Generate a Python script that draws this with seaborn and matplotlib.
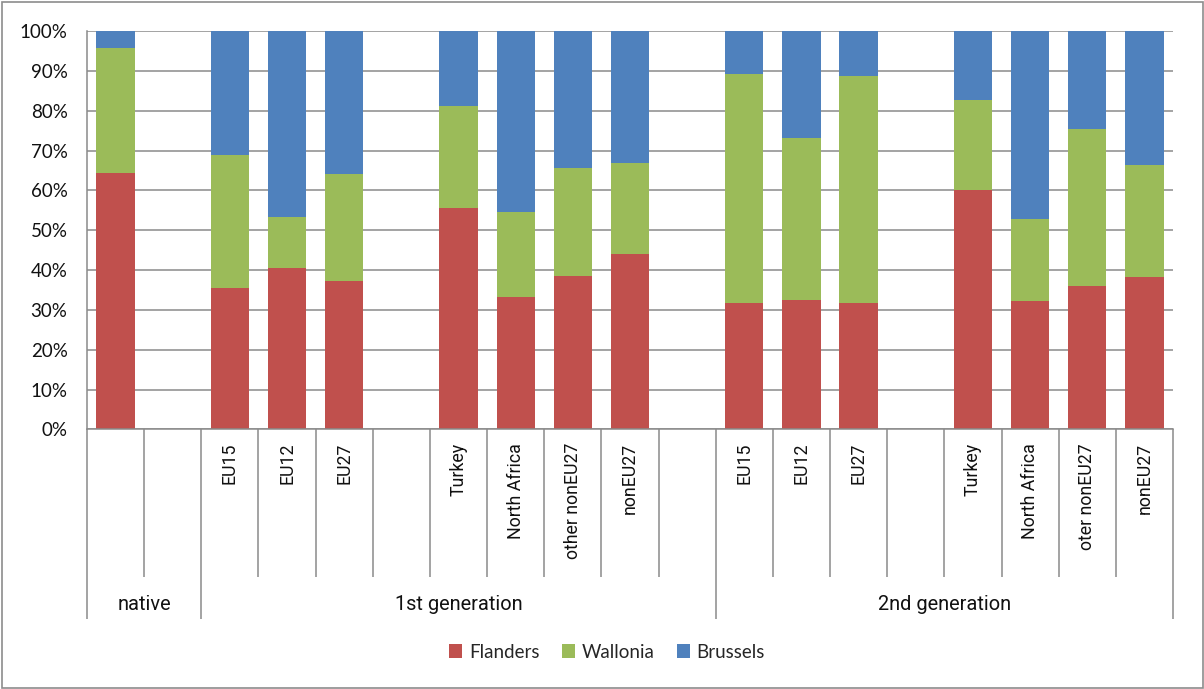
import matplotlib
matplotlib.use("Agg")
import matplotlib.pyplot as plt
import matplotlib.transforms as mtransforms
from matplotlib import font_manager
from matplotlib.font_manager import FontProperties
from matplotlib.patches import Patch, Rectangle
import pandas as pd
import seaborn as sns

# ---- data -------------------------------------------------------------
group_names = ["native", "1st generation", "2nd generation"]
group_sizes = [2, 9, 8]
categories = ["", "",
              "EU15", "EU12", "EU27", "", "Turkey", "North Africa", "other nonEU27", "nonEU27", "",
              "EU15", "EU12", "EU27", "", "Turkey", "North Africa", "oter nonEU27", "nonEU27"]
flanders = [64.4, None,
            35.5, 40.5, 37.2, None, 55.6, 33.3, 38.5, 44.1, None,
            31.7, 32.4, 31.7, None, 60.0, 32.2, 36.0, 38.3]
wallonia = [31.4, None,
            33.5, 12.8, 27.0, None, 25.5, 21.4, 27.2, 22.9, None,
            57.5, 40.8, 57.0, None, 22.8, 20.6, 39.4, 28.0]
brussels = [4.2, None,
            31.0, 46.7, 35.8, None, 18.9, 45.3, 34.3, 33.0, None,
            10.8, 26.8, 11.3, None, 17.2, 47.2, 24.6, 33.7]
series_names = ["Flanders", "Wallonia", "Brussels"]
series_colors = ["#C0504D", "#9BBB59", "#4F81BD"]
yticks = list(range(0, 101, 10))

# ---- fonts ------------------------------------------------------------
def pick_font(*names):
    for name in names:
        try:
            font_manager.findfont(FontProperties(family=name), fallback_to_default=False)
            return name
        except ValueError:
            continue
    return "DejaVu Sans"

sns.set_style("white")
main_font = pick_font("Lato", "Open Sans", "DejaVu Sans")
narrow_font = pick_font("Liberation Sans Narrow", "Roboto", "Liberation Sans")
is_narrow = narrow_font == "Liberation Sans Narrow"
plt.rcParams["font.family"] = [main_font, "DejaVu Sans"]

# ---- table ------------------------------------------------------------
slot_keys = [f"{i}:{c}" for i, c in enumerate(categories)]
rows = []
for key, f, w, b in zip(slot_keys, flanders, wallonia, brussels):
    if f is None:
        continue
    rows.append({"slot": key, "Flanders": f, "Wallonia": w, "Brussels": b})
df = pd.DataFrame(rows)
# running totals for stacking
df["top_Flanders"] = df["Flanders"]
df["top_Wallonia"] = df["Flanders"] + df["Wallonia"]
df["top_Brussels"] = df["Flanders"] + df["Wallonia"] + df["Brussels"]

# ---- figure -----------------------------------------------------------
W, H = 1204, 689
AX_L, AX_R, AX_T, AX_B = 87, 1173, 31, 429.5
fig = plt.figure(figsize=(W / 100, H / 100), dpi=100)
ax = fig.add_axes([AX_L / W, 1 - AX_B / H, (AX_R - AX_L) / W, (AX_B - AX_T) / H])

grid_color = "#8a8a8a"
for name, color in reversed(list(zip(series_names, series_colors))):
    sns.barplot(data=df, x="slot", y=f"top_{name}", order=slot_keys, color=color,
                saturation=1, width=0.67, errorbar=None, linewidth=0, ax=ax)

ax.set_xlim(-0.5, len(slot_keys) - 0.5)
ax.set_ylim(0, 100)
ax.set_yticks(yticks)
ax.set_yticklabels([f"{t}%" for t in yticks])
ax.set_xticks([])
ax.set_xlabel("")
ax.set_ylabel("")
ax.set_axisbelow(True)
ax.yaxis.grid(True, color=grid_color, linewidth=1.1)
ax.tick_params(axis="y", length=5, width=1.1, color=grid_color, pad=9,
               labelsize=13.5, labelcolor="#111111")
for s in ["top", "right"]:
    ax.spines[s].set_visible(False)
for s in ["left", "bottom"]:
    ax.spines[s].set_color(grid_color)
    ax.spines[s].set_linewidth(1.1)

# ---- category axis ----------------------------------------------------
trans = mtransforms.blended_transform_factory(ax.transData, ax.transAxes)

def ay(py):
    return (AX_B - py) / (AX_B - AX_T)

group_edges = [0]
for n in group_sizes:
    group_edges.append(group_edges[-1] + n)

for i in range(len(slot_keys) + 1):
    bottom = 619 if i in group_edges else 577
    ax.plot([i - 0.5, i - 0.5], [0, ay(bottom)], transform=trans, color=grid_color,
            lw=1.1, clip_on=False, solid_capstyle="butt")

cat_size = 17.2 if is_narrow else 12.8
for i, label in enumerate(categories):
    if label:
        ax.text(i, ay(443), label, transform=trans, rotation=90, ha="center", va="top",
                fontsize=cat_size, family=narrow_font, color="#111111")

grp_size = 18 if is_narrow else 14.4
for name, start, end in zip(group_names, group_edges[:-1], group_edges[1:]):
    ax.text((start + end - 1) / 2, ay(604), name, transform=trans, ha="center",
            va="center", fontsize=grp_size, family=narrow_font, color="#111111")

# ---- legend -----------------------------------------------------------
handles = [Patch(facecolor=c, edgecolor="none") for c in series_colors]
fig.legend(handles, series_names, loc="center", bbox_to_anchor=(607 / W, 1 - 652 / H),
           ncol=3, frameon=False, fontsize=13.5, handlelength=0.7, handleheight=0.7,
           handletextpad=0.35, columnspacing=1.2)

# chart frame
fig.patches.append(Rectangle((1.5 / W, 1.5 / H), (W - 3) / W, (H - 3) / H,
                             transform=fig.transFigure, fill=False,
                             edgecolor="#8c8c8c", linewidth=1.2))

fig.savefig("out.png", dpi=100, facecolor="white")
